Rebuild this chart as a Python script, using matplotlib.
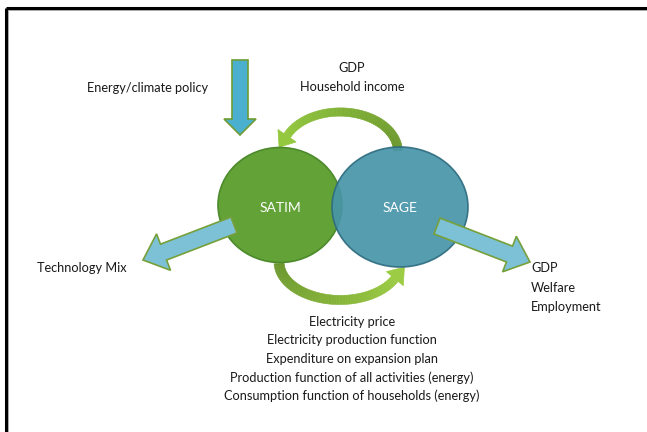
import numpy as np
import matplotlib.pyplot as plt
from matplotlib.patches import Ellipse, Polygon, FancyArrow
from matplotlib.colors import to_rgb

plt.rcParams['font.family'] = ['Lato', 'DejaVu Sans']

# 1. texts
policy_text = 'Energy/climate policy'
top_flow = ['GDP', 'Household income']
left_out = 'Technology Mix'
right_out = ['GDP', 'Welfare', 'Employment']
bottom_flow = ['Electricity price',
               'Electricity production function',
               'Expenditure on expansion plan',
               'Production function of all activities (energy)',
               'Consumption function of households (energy)']
models = ['SATIM', 'SAGE']


def band_arrow(ax, cx, cy, a, b, t0, t1, w, head_w, head_len, c0, c1, n=60):
    # curved arrow along an ellipse (pixel coords, y down)
    ts = np.radians(np.linspace(t0, t1, n))
    pts = np.c_[cx + a * np.cos(ts), cy + b * np.sin(ts)]
    c0, c1 = np.array(to_rgb(c0)), np.array(to_rgb(c1))
    for i in range(n - 1):
        p, q = pts[i], pts[i + 1]
        d = (q - p) / np.linalg.norm(q - p)
        nv = np.array([-d[1], d[0]])
        ww = w * (1 - 0.15 * i / n)
        quad = [p + nv * ww / 2, q + nv * ww / 2, q - nv * ww / 2, p - nv * ww / 2]
        col = c0 + (c1 - c0) * i / (n - 1)
        ax.add_patch(Polygon(quad, closed=True, fc=col, ec=col, lw=0.4, zorder=1))
    p = pts[-1]
    d = (pts[-1] - pts[-2]) / np.linalg.norm(pts[-1] - pts[-2])
    nv = np.array([-d[1], d[0]])
    head = [p + nv * head_w / 2, p + d * head_len, p - nv * head_w / 2]
    ax.add_patch(Polygon(head, closed=True, fc=c1, ec=c1, lw=0.5, zorder=1))


fig = plt.figure(figsize=(6.47, 4.32), dpi=100)
ax = fig.add_axes([0, 0, 1, 1])
ax.set_xlim(0, 647)
ax.set_ylim(432, 0)
ax.axis('off')

# frame (top and left only)
ax.plot([6, 647], [8, 8], color='black', lw=2.2, solid_capstyle='butt')
ax.plot([6, 6], [8, 432], color='black', lw=2.2, solid_capstyle='butt')
ax.plot([8, 647], [10, 10], color='#9a9a9a', lw=0.6)
ax.plot([8, 8], [10, 432], color='#9a9a9a', lw=0.6)

# curved arrows
band_arrow(ax, 340, 152, 58, 40, -2, -156, 9, 22, 14, '#6a962c', '#93c83f')
band_arrow(ax, 340, 262, 61, 38, 178, 26, 10, 22, 15, '#6a962c', '#9ccc44')

# circles
ax.add_patch(Ellipse((280, 205), 124, 115, fc='#62a237', ec='#4d8a2c', lw=1.2, zorder=2))
ax.add_patch(Ellipse((400, 207), 136, 120, fc='#4795a8', ec='#2e6c80', lw=1.2, alpha=0.92, zorder=3))
ax.text(280, 208, models[0], color='white', ha='center', va='center', fontsize=10, zorder=5)
ax.text(400, 208, models[1], color='white', ha='center', va='center', fontsize=10, zorder=5)

# straight arrows
ax.add_patch(FancyArrow(240, 60, 0, 75, width=16, head_width=32, head_length=16,
                        length_includes_head=True, fc='#4bb0d0', ec='#6f9c35', lw=1.2, zorder=4))
ax.add_patch(FancyArrow(234, 225, 143 - 234, 260 - 225, width=17, head_width=39, head_length=22,
                        length_includes_head=True, fc='#7dc1d6', ec='#76a03a', lw=1.2, zorder=4))
ax.add_patch(FancyArrow(437, 226, 530 - 437, 262 - 226, width=17, head_width=38, head_length=22,
                        length_includes_head=True, fc='#7dc1d6', ec='#76a03a', lw=1.2, zorder=4))

# labels
tc = '#1a1a1a'
fs = 9.2
ax.text(148, 88, policy_text, ha='center', va='center', fontsize=fs, color=tc)
for i, s in enumerate(top_flow):
    ax.text(352, 68 + i * 19, s, ha='center', va='center', fontsize=fs, color=tc)
ax.text(37, 268, left_out, ha='left', va='center', fontsize=fs, color=tc)
for i, s in enumerate(right_out):
    ax.text(531, 268 + i * 19.5, s, ha='left', va='center', fontsize=fs, color=tc)
for i, s in enumerate(bottom_flow):
    ax.text(352, 322 + i * 18.5, s, ha='center', va='center', fontsize=fs, color=tc)

fig.savefig('out.png', dpi=100)
